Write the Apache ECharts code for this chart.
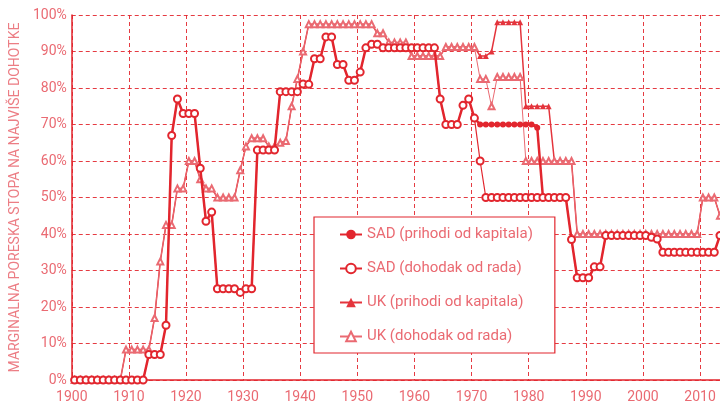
<!DOCTYPE html>
<html lang="sr">
<head>
    <meta charset="UTF-8">
    <title>Marginalna poreska stopa</title>
    <script src="https://cdn.jsdelivr.net/npm/echarts@6/dist/echarts.min.js"></script>
</head>
<body style="margin:0">
<div id="chart" style="width:720px;height:405px;"></div>
<script type="text/javascript">
    // godine 1900-2013
    var years = [];
    for (var y = 1900; y <= 2013; y++) years.push(y);

    var usCapital = [
        0, 0, 0, 0, 0, 0, 0, 0, 0, 0, 0, 0, 0,            // 1900-1912
        7, 7, 7, 15, 67, 77, 73, 73, 73, 58,              // 1913-1922
        43.5, 46, 25, 25, 25, 25, 24, 25, 25,             // 1923-1931
        63, 63, 63, 63, 79, 79, 79, 79, 81.1, 81,         // 1932-1941
        88, 88, 94, 94, 86.45, 86.45, 82.13, 82.13, 84.36, // 1942-1950
        91, 92, 92, 91, 91, 91, 91, 91, 91, 91, 91, 91, 91, // 1951-1963
        77, 70, 70, 70, 75.25, 77, 71.75,                 // 1964-1970
        70, 70, 70, 70, 70, 70, 70, 70, 70, 70, 69.13,    // 1971-1981
        50, 50, 50, 50, 50, 38.5, 28, 28, 28, 31, 31,     // 1982-1992
        39.6, 39.6, 39.6, 39.6, 39.6, 39.6, 39.6, 39.6, 39.1, 38.6, // 1993-2002
        35, 35, 35, 35, 35, 35, 35, 35, 35, 35, 39.6      // 2003-2013
    ];
    var usLabour = [
        0, 0, 0, 0, 0, 0, 0, 0, 0, 0, 0, 0, 0,
        7, 7, 7, 15, 67, 77, 73, 73, 73, 58,
        43.5, 46, 25, 25, 25, 25, 24, 25, 25,
        63, 63, 63, 63, 79, 79, 79, 79, 81.1, 81,
        88, 88, 94, 94, 86.45, 86.45, 82.13, 82.13, 84.36,
        91, 92, 92, 91, 91, 91, 91, 91, 91, 91, 91, 91, 91,
        77, 70, 70, 70, 75.25, 77, 71.75,
        60, 50, 50, 50, 50, 50, 50, 50, 50, 50, 50,
        50, 50, 50, 50, 50, 38.5, 28, 28, 28, 31, 31,
        39.6, 39.6, 39.6, 39.6, 39.6, 39.6, 39.6, 39.6, 39.1, 38.6,
        35, 35, 35, 35, 35, 35, 35, 35, 35, 35, 39.6
    ];
    var ukCapital = [
        0, 0, 0, 0, 0, 0, 0, 0, 0,                        // 1900-1908
        8.33, 8.33, 8.33, 8.33, 8.33, 17, 32.5, 42.5, 42.5, // 1909-1917
        52.5, 52.5, 60, 60, 55, 52.5, 52.5,               // 1918-1924
        50, 50, 50, 50, 57.5, 64, 66.25, 66.25, 66.25,    // 1925-1933
        64, 64, 65, 65.5, 75, 82.5, 90,                   // 1934-1940
        97.5, 97.5, 97.5, 97.5, 97.5, 97.5, 97.5, 97.5, 97.5, 97.5, 97.5, 97.5, // 1941-1952
        95, 95, 92.5, 92.5, 92.5, 92.5,                   // 1953-1958
        88.75, 88.75, 88.75, 88.75, 88.75, 88.75,         // 1959-1964
        91.25, 91.25, 91.25, 91.25, 91.25, 91.25,         // 1965-1970
        88.75, 88.75, 90, 98, 98, 98, 98, 98,             // 1971-1978
        75, 75, 75, 75, 75, 60, 60, 60, 60,               // 1979-1987
        40, 40, 40, 40, 40, 40, 40, 40, 40, 40, 40,       // 1988-1998
        40, 40, 40, 40, 40, 40, 40, 40, 40, 40, 40,       // 1999-2009
        50, 50, 50, 45                                    // 2010-2013
    ];
    var ukLabour = [
        0, 0, 0, 0, 0, 0, 0, 0, 0,
        8.33, 8.33, 8.33, 8.33, 8.33, 17, 32.5, 42.5, 42.5,
        52.5, 52.5, 60, 60, 55, 52.5, 52.5,
        50, 50, 50, 50, 57.5, 64, 66.25, 66.25, 66.25,
        64, 64, 65, 65.5, 75, 82.5, 90,
        97.5, 97.5, 97.5, 97.5, 97.5, 97.5, 97.5, 97.5, 97.5, 97.5, 97.5, 97.5,
        95, 95, 92.5, 92.5, 92.5, 92.5,
        88.75, 88.75, 88.75, 88.75, 88.75, 88.75,
        91.25, 91.25, 91.25, 91.25, 91.25, 91.25,
        82.5, 82.5, 75, 83, 83, 83, 83, 83,
        60, 60, 60, 60, 60, 60, 60, 60, 60,
        40, 40, 40, 40, 40, 40, 40, 40, 40, 40, 40,
        40, 40, 40, 40, 40, 40, 40, 40, 40, 40, 40,
        50, 50, 50, 45
    ];

    var seriesNames = ['SAD (prihodi od kapitala)', 'SAD (dohodak od rada)',
        'UK (prihodi od kapitala)', 'UK (dohodak od rada)'];

    // tacke su na sredini godine
    function pairs(vals) {
        return years.map(function (yr, i) { return [yr + 0.5, vals[i]]; });
    }

    var red = '#e2262e';
    var pink = '#ea6a72';
    var font = 'Roboto';

    var chart = echarts.init(document.getElementById('chart'));
    chart.setOption({
        animation: false,
        textStyle: {fontFamily: font},
        grid: {left: 67, right: 0, top: 15, bottom: 25},
        legend: {
            orient: 'vertical',
            left: 314,
            top: 217,
            padding: [10, 22, 9, 25],
            itemGap: 19,
            itemWidth: 22,
            itemHeight: 12,
            backgroundColor: '#fff',
            borderColor: red,
            borderWidth: 1.2,
            textStyle: {color: pink, fontSize: 15, fontFamily: font},
            data: seriesNames
        },
        xAxis: {
            type: 'value',
            min: 1900,
            max: 2013.5,
            interval: 10,
            axisLine: {lineStyle: {color: red, width: 1.5}},
            axisTick: {show: false},
            axisLabel: {
                color: pink, fontSize: 14, margin: 10, showMaxLabel: false,
                formatter: function (v) { return v % 10 === 0 ? String(v) : ''; }
            },
            splitLine: {lineStyle: {color: red, type: [4, 3], width: 1, opacity: 0.9}}
        },
        yAxis: {
            type: 'value',
            min: 0,
            max: 100,
            interval: 10,
            name: 'MARGINALNA PORESKA STOPA NA NAJVIŠE DOHOTKE',
            nameLocation: 'middle',
            nameGap: 42,
            nameTextStyle: {color: '#ec7d84', fontSize: 14},
            axisLine: {show: true, lineStyle: {color: red, width: 1.5}},
            axisTick: {show: false},
            axisLabel: {color: pink, fontSize: 14, margin: 5, formatter: '{value}%'},
            splitLine: {lineStyle: {color: red, type: [4, 3], width: 1, opacity: 0.9}}
        },
        series: [
            {
                name: seriesNames[2],
                type: 'line',
                data: pairs(ukCapital),
                symbol: 'triangle',
                symbolSize: 6,
                color: '#e4343c',
                itemStyle: {borderWidth: 1},
                lineStyle: {width: 1.5},
                z: 2
            },
            {
                name: seriesNames[3],
                type: 'line',
                data: pairs(ukLabour),
                symbol: 'emptyTriangle',
                symbolSize: 6,
                color: pink,
                itemStyle: {borderWidth: 1},
                lineStyle: {width: 1},
                z: 3
            },
            {
                name: seriesNames[0],
                type: 'line',
                data: pairs(usCapital),
                symbol: 'circle',
                symbolSize: 6,
                color: red,
                itemStyle: {borderWidth: 1},
                lineStyle: {width: 2.5},
                z: 4
            },
            {
                name: seriesNames[1],
                type: 'line',
                data: pairs(usLabour),
                symbol: 'emptyCircle',
                symbolSize: 7,
                color: red,
                itemStyle: {borderWidth: 1},
                lineStyle: {width: 1.2},
                z: 5
            }
        ]
    });
</script>
</body>
</html>
